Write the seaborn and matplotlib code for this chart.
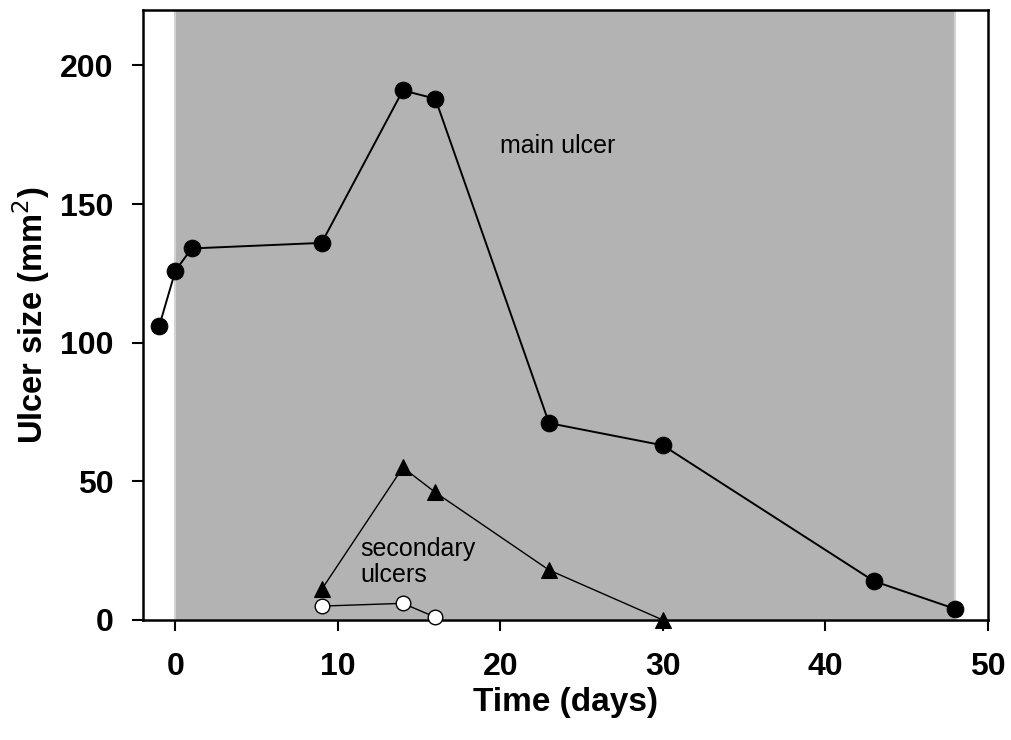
import matplotlib
matplotlib.use("Agg")
import matplotlib.pyplot as plt
import seaborn as sns

# main ulcer
main_days = [-1, 0, 1, 9, 14, 16, 23, 30, 43, 48]
main_size = [106, 126, 134, 136, 191, 188, 71, 63, 14, 4]

# secondary ulcers
sec1_days = [9, 14, 16, 23, 30]
sec1_size = [11, 55, 46, 18, 0]
sec2_days = [9, 14, 16]
sec2_size = [5, 6, 1]

treat_start, treat_end = 0, 48
x_ticks = [0, 10, 20, 30, 40, 50]
y_ticks = [0, 50, 100, 150, 200]

sns.set_style("ticks")
plt.rcParams["font.family"] = ["Liberation Sans", "DejaVu Sans"]
plt.rcParams["text.color"] = "black"
plt.rcParams["axes.labelcolor"] = "black"
plt.rcParams["xtick.color"] = "black"
plt.rcParams["ytick.color"] = "black"

fig = plt.figure(figsize=(10.11, 7.40), dpi=100)
ax = fig.add_axes([0.1414, 0.1622, 0.8355, 0.8243])

ax.axvspan(treat_start, treat_end, facecolor="#b3b3b3", edgecolor="#d2d2d2",
           linewidth=1.5, zorder=0)

sns.lineplot(x=main_days, y=main_size, ax=ax, color="black", linewidth=1.4,
             marker="o", markersize=12, markeredgecolor="black", zorder=3)
sns.lineplot(x=sec1_days, y=sec1_size, ax=ax, color="black", linewidth=1.0,
             marker="^", markersize=11, markeredgecolor="black", zorder=3,
             clip_on=False)
sns.lineplot(x=sec2_days, y=sec2_size, ax=ax, color="black", linewidth=1.0,
             marker="o", markersize=10.5, markerfacecolor="white",
             markeredgecolor="black", markeredgewidth=1.0, zorder=4,
             clip_on=False)

ax.set_xlim(-2, 50)
ax.set_ylim(0, 220)
ax.set_xticks(x_ticks)
ax.set_yticks(y_ticks)
ax.tick_params(direction="out", length=8, width=1.5, labelsize=23)
ax.tick_params(axis="x", pad=15)
ax.tick_params(axis="y", pad=13)
for lab in ax.get_xticklabels() + ax.get_yticklabels():
    lab.set_fontweight("bold")
for sp in ax.spines.values():
    sp.set_linewidth(1.8)
    sp.set_color("black")

ax.set_xlabel("Time (days)", fontsize=24, fontweight="bold", labelpad=4)
ax.set_ylabel("Ulcer size (mm$^2$)", fontsize=23.5, fontweight="bold", labelpad=6)

ax.text(20, 171, "main ulcer", fontsize=18, ha="left", va="center")
ax.text(11.4, 21, "secondary\nulcers", fontsize=18, ha="left", va="center",
        linespacing=1.1)

fig.savefig("out.png", dpi=100)
